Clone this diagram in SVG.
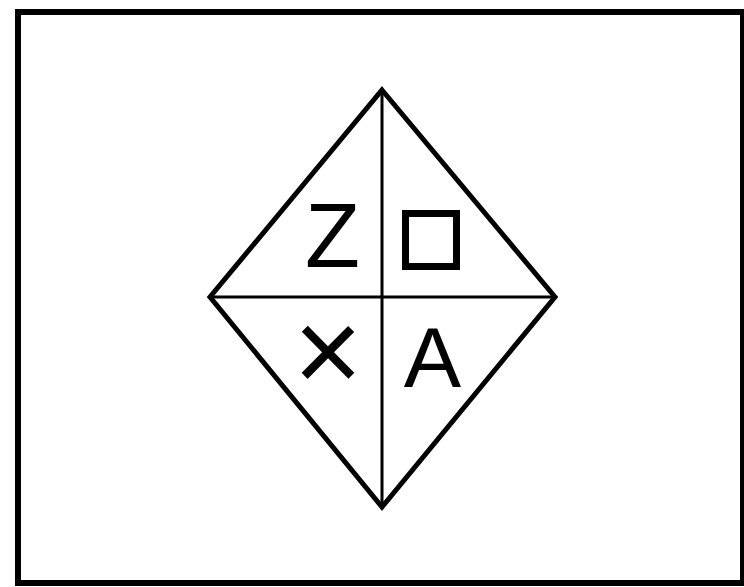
<svg xmlns="http://www.w3.org/2000/svg" width="744" height="587" viewBox="0 0 744 587">
<style>
.frame{fill:none;stroke:#000;stroke-width:6}
.dia{fill:#fff;stroke:#000;stroke-width:5;stroke-linejoin:miter}
.ln{stroke:#000;stroke-width:3}
.lbl{font-family:"Liberation Sans",Arial,sans-serif;font-size:90px;fill:#000}
</style>
<rect width="744" height="587" fill="#fff"/>
<g id="frame"><rect class="frame" x="18" y="12" width="725" height="571"/></g>
<g id="diamond"><polygon class="dia" points="382,90 555,297 382,507 210,297"/></g>
<g id="connectors">
<line class="ln" x1="382" y1="90" x2="382" y2="507"/>
<line class="ln" x1="210" y1="297" x2="555" y2="297"/>
</g>
<g id="q-z"><text class="lbl" x="305" y="267">Z</text></g>
<g id="q-square"><rect x="405.5" y="213.5" width="51" height="53" fill="none" stroke="#000" stroke-width="7"/></g>
<g id="q-x"><text class="lbl" x="328" y="392" text-anchor="middle" style="font-size:118px">×</text></g>
<g id="q-a"><text class="lbl" x="432.5" y="387" text-anchor="middle" style="font-size:86px">A</text></g>
</svg>
